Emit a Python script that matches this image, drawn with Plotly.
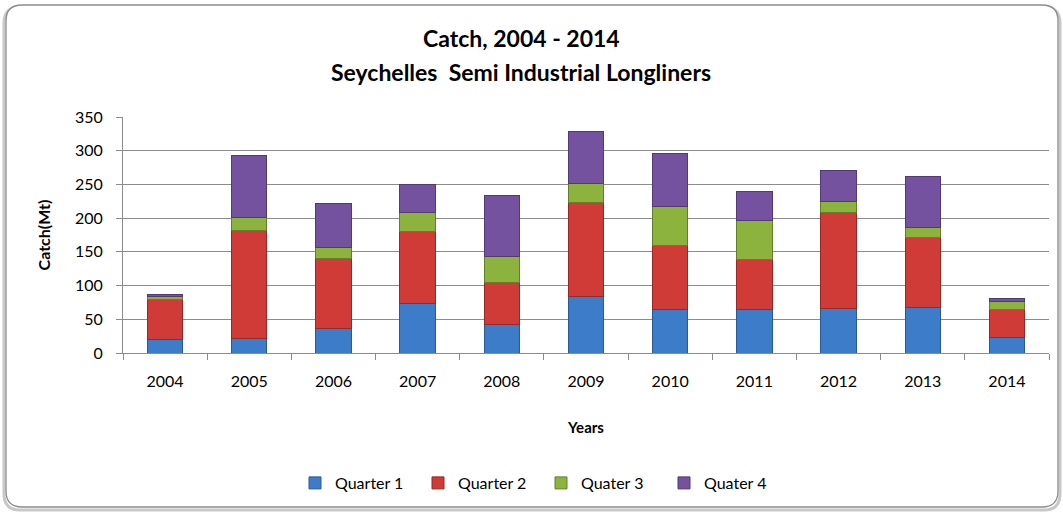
import plotly.graph_objects as go

years = ["2004", "2005", "2006", "2007", "2008", "2009", "2010", "2011", "2012", "2013", "2014"]
quarter_1 = [20, 22, 36, 74, 42, 84, 64, 64, 66, 68, 23]
quarter_2 = [59, 159, 104, 106, 62, 139, 95, 75, 142, 104, 42]
quater_3 = [5, 20, 16, 29, 39, 28, 59, 57, 17, 14, 11]
quater_4 = [3, 92, 65, 41, 91, 78, 78, 43, 46, 76, 5]

series_names = ["Quarter 1", "Quarter 2", "Quater 3", "Quater 4"]
fills = ["#3D7CC9", "#D13B37", "#8DB33F", "#7552A0"]
edges = ["#2A5A96", "#962826", "#62802A", "#533A75"]

title_lines = ["Catch, 2004 - 2014", "Seychelles  Semi Industrial Longliners"]

FONT = "Lato"

fig = go.Figure()
for name, vals, fc, ec in zip(series_names, [quarter_1, quarter_2, quater_3, quater_4], fills, edges):
    fig.add_trace(go.Bar(
        name=name, x=years, y=vals,
        marker=dict(color=fc, line=dict(color=ec, width=1)),
    ))

# plot area in pixels; helpers convert page pixels to paper coordinates
L, R, T, B = 123, 1049, 117, 353
W, H = R - L, B - T


def px(x):
    return (x - L) / W


def py(y):
    return (B - y) / H


def rounded(x0, y0, x1, y1, r):
    rx, ry = r / W, r / H
    a, b, c, d = px(x0), py(y0), px(x1), py(y1)
    return (f"M {a + rx} {b} L {c - rx} {b} Q {c} {b} {c} {b - ry} "
            f"L {c} {d + ry} Q {c} {d} {c - rx} {d} "
            f"L {a + rx} {d} Q {a} {d} {a} {d + ry} "
            f"L {a} {b - ry} Q {a} {b} {a + rx} {b} Z")


# rounded chart border with a soft shadow
fig.add_shape(type="path", xref="paper", yref="paper", layer="below",
              path=rounded(4, 7, 1060, 510, 16),
              line=dict(color="#C8C8C8", width=3), fillcolor="rgba(0,0,0,0)")
fig.add_shape(type="path", xref="paper", yref="paper", layer="below",
              path=rounded(6, 5, 1058, 507, 16),
              line=dict(color="#8C8C8C", width=1.3), fillcolor="white")

# two-line bold chart title
for text, yc in zip(title_lines, [38, 72]):
    fig.add_annotation(
        text=f"<b>{text}</b>", xref="paper", yref="paper",
        x=px(521), y=py(yc), xanchor="center", yanchor="middle",
        showarrow=False, font=dict(family=FONT, size=23, color="#000000"),
    )

fig.update_layout(
    barmode="stack",
    bargap=0.58,
    width=1063, height=512,
    margin=dict(l=L, r=1063 - R, t=T, b=512 - B),
    paper_bgcolor="white",
    plot_bgcolor="white",
    font=dict(family=FONT, size=16, color="#000000"),
    xaxis=dict(
        title=dict(text="<b>Years</b>", font=dict(size=15), standoff=33),
        showgrid=False, showline=True, linecolor="#8C8C8C", linewidth=1,
        ticks="outside", tickson="boundaries", ticklen=6, tickcolor="#8C8C8C",
        tickfont=dict(size=16), ticklabelstandoff=14,
    ),
    yaxis=dict(
        title=dict(text="<b>Catch(Mt)</b>", font=dict(size=16), standoff=20),
        range=[0, 350], dtick=50,
        showgrid=True, gridcolor="#8C8C8C", gridwidth=1,
        showline=True, linecolor="#8C8C8C", linewidth=1,
        ticks="outside", ticklen=6, tickcolor="#8C8C8C",
        tickfont=dict(size=16), zeroline=False, ticklabelstandoff=10,
    ),
    legend=dict(
        orientation="h", x=px(541), xanchor="center", y=py(483), yanchor="middle",
        font=dict(size=16), traceorder="normal", itemwidth=30,
        entrywidth=78, entrywidthmode="pixels",
        bgcolor="rgba(0,0,0,0)",
    ),
    showlegend=True,
)

fig.write_html("out.html")
